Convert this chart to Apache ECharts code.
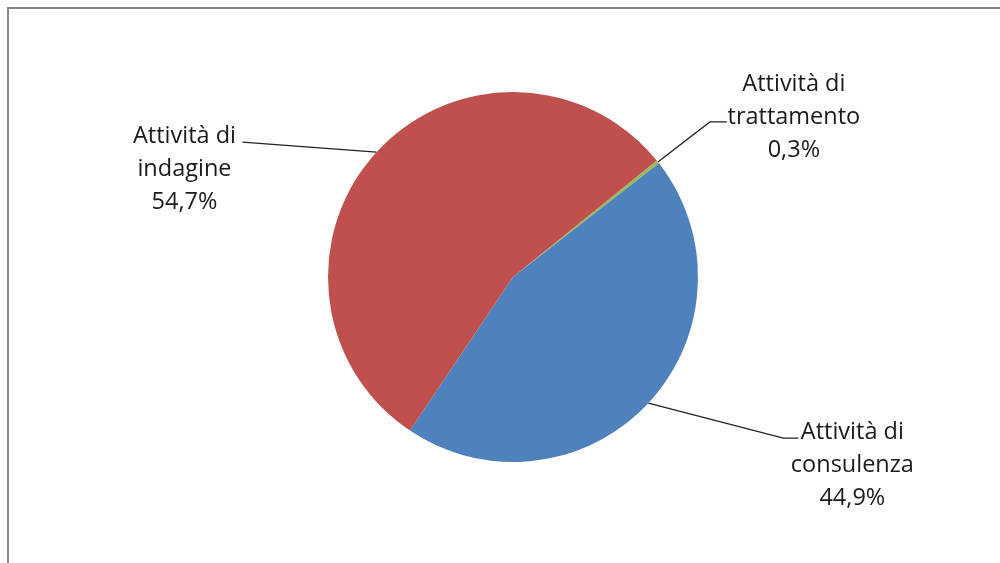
<!DOCTYPE html>
<html>
<head>
<meta charset="utf-8">
<script src="https://cdn.jsdelivr.net/npm/echarts@6/dist/echarts.min.js"></script>
<style>html,body{margin:0;padding:0;background:#fff}#c{width:1000px;height:563px}</style>
</head>
<body>
<div id="c"></div>
<script>
const categories = ['Attività di trattamento', 'Attività di consulenza', 'Attività di indagine'];
const values = [0.3, 44.9, 54.7];
const colors = ['#9BBB59', '#4F81BD', '#C0504D'];

// label layout offsets relative to the library-computed anchor on the slice edge
const labelOffsets = [
  {bend: [52, -40], end: [69, -40], center: [136, -45]},
  {bend: [135, 35], end: [150, 35], center: [204, 62]},
  {bend: [-134, -10], end: [-134, -10], center: [-192, 17]}
];

const chart = echarts.init(document.getElementById('c'), null, {renderer: 'canvas'});
chart.setOption({
  backgroundColor: '#fff',
  animation: false,
  graphic: [{
    type: 'rect',
    shape: {x: 8, y: 8, width: 1100, height: 700},
    style: {fill: 'none', stroke: '#868686', lineWidth: 2},
    silent: true
  }],
  series: [{
    type: 'pie',
    center: [513, 277],
    radius: [0, 185],
    startAngle: 39,
    clockwise: true,
    avoidLabelOverlap: false,
    data: categories.map((n, i) => ({name: n, value: values[i], itemStyle: {color: colors[i]}})),
    itemStyle: {borderWidth: 0},
    emphasis: {disabled: true},
    label: {
      show: true,
      position: 'outside',
      fontFamily: 'Open Sans',
      fontSize: 23.5,
      lineHeight: 33,
      color: '#1a1a1a',
      align: 'center',
      formatter: p => p.name.replace(' di ', ' di\n') + '\n' + p.value.toFixed(1).replace('.', ',') + '%'
    },
    labelLine: {show: true, length: 20, length2: 10, lineStyle: {color: '#222', width: 1.3}},
    labelLayout: function (params) {
      const o = labelOffsets[params.dataIndex];
      const a = params.labelLinePoints[0];
      return {
        x: a[0] + o.center[0],
        y: a[1] + o.center[1],
        align: 'center',
        verticalAlign: 'middle',
        labelLinePoints: [
          [a[0], a[1]],
          [a[0] + o.bend[0], a[1] + o.bend[1]],
          [a[0] + o.end[0], a[1] + o.end[1]]
        ]
      };
    }
  }]
});
</script>
</body>
</html>
